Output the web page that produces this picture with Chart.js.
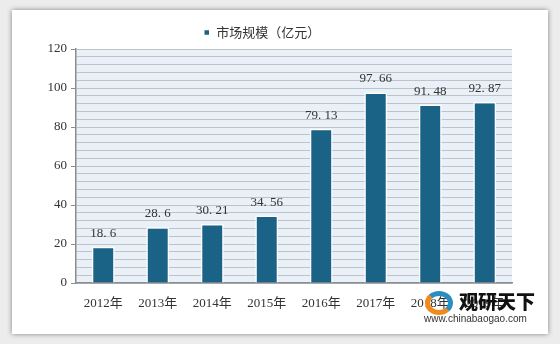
<!DOCTYPE html>
<html lang="zh-CN">
<head>
    <meta charset="UTF-8">
    <title>市场规模</title>
    <script src="https://cdn.jsdelivr.net/npm/chart.js"></script>
    <style>
        body {
            margin: 0;
            width: 560px;
            height: 344px;
            background-color: #ececec;
            overflow: hidden;
            position: relative;
        }

        .panel {
            position: absolute;
            left: 12px;
            top: 10px;
            width: 536px;
            height: 324px;
            background-color: #ffffff;
            box-shadow: 0 0 5px rgba(0, 0, 0, 0.45);
        }

        .logo {
            position: absolute;
            left: 410px;
            top: 278px;
            width: 124px;
            height: 44px;
            font-family: "Noto Sans CJK SC", sans-serif;
        }

        .logo .mark {
            position: absolute;
            left: 3px;
            top: 3px;
            width: 18px;
            height: 14px;
            border-radius: 50%;
            border: 5px solid #2a8fc0;
            border-bottom-color: #f08a1c;
            border-left-color: #f08a1c;
        }

        .logo .name {
            position: absolute;
            left: 37px;
            top: -1px;
            font-size: 19px;
            font-weight: 900;
            color: #111;
            letter-spacing: 0px;
        }

        .logo .url {
            position: absolute;
            left: 2px;
            top: 25px;
            font-family: "Liberation Sans", Arial, sans-serif;
            font-size: 10px;
            color: #333;
        }
    </style>
</head>
<body>
    <div class="panel">
        <canvas id="chart" width="536" height="324"></canvas>
        <div class="logo">
            <div class="mark"></div>
            <div class="name">观研天下</div>
            <div class="url">www.chinabaogao.com</div>
        </div>
    </div>

    <script>
        const years = ['2012年', '2013年', '2014年', '2015年', '2016年', '2017年', '2018年', '2019年'];
        const marketSize = [18.6, 28.6, 30.21, 34.56, 79.13, 97.66, 91.48, 92.87];
        const yTicks = [0, 20, 40, 60, 80, 100, 120];

        const textFont = '"Liberation Serif", "Noto Sans CJK SC", serif';

        // light blue plot background
        const plotBg = {
            id: 'plotBg',
            beforeDraw(chart) {
                const { ctx, chartArea: a } = chart;
                ctx.save();
                ctx.fillStyle = '#e9f0f7';
                ctx.fillRect(a.left, a.top, a.right - a.left, a.bottom - a.top);
                ctx.restore();
            }
        };

        // values above the bars
        const barLabels = {
            id: 'barLabels',
            afterDatasetsDraw(chart) {
                const { ctx } = chart;
                const meta = chart.getDatasetMeta(0);
                ctx.save();
                ctx.font = '13px ' + textFont;
                ctx.fillStyle = '#333333';
                ctx.textAlign = 'center';
                ctx.textBaseline = 'bottom';
                meta.data.forEach((bar, i) => {
                    ctx.fillText(String(marketSize[i]).replace('.', '. '), bar.x, bar.y - 7);
                });
                ctx.restore();
            }
        };

        new Chart(document.getElementById('chart'), {
            type: 'bar',
            data: {
                labels: years,
                datasets: [{
                    label: '市场规模（亿元）',
                    data: marketSize,
                    backgroundColor: '#1a6386',
                    borderColor: '#ffffff',
                    borderWidth: 1.5,
                    barPercentage: 0.42,
                    categoryPercentage: 1
                }]
            },
            options: {
                responsive: false,
                animation: false,
                layout: { padding: { top: 6, right: 36, left: 0, bottom: 0 } },
                plugins: {
                    tooltip: { enabled: false },
                    legend: {
                        labels: {
                            boxWidth: 6,
                            boxHeight: 6,
                            padding: 10,
                            color: '#333333',
                            font: { size: 13, family: '"Noto Sans CJK SC", sans-serif' }
                        }
                    }
                },
                scales: {
                    x: {
                        grid: { display: false },
                        border: { color: '#8c8c8c', width: 1.5 },
                        ticks: {
                            color: '#333333',
                            padding: 5,
                            font: { size: 13, family: textFont }
                        },
                        afterFit(scale) { scale.height = 51; }
                    },
                    y: {
                        min: 0,
                        max: 120,
                        border: { color: '#8c8c8c', width: 1.5 },
                        grid: {
                            color: '#bfc3c8',
                            lineWidth: 1,
                            tickLength: 5,
                            tickColor: ctx => (yTicks.includes(ctx.tick.value) ? '#8c8c8c' : 'rgba(0,0,0,0)')
                        },
                        ticks: {
                            stepSize: 4,
                            autoSkip: false,
                            color: '#333333',
                            padding: 4,
                            font: { size: 13, family: textFont },
                            callback: v => (yTicks.includes(v) ? v : '')
                        },
                        afterFit(scale) { scale.width = 64; }
                    }
                }
            },
            plugins: [plotBg, barLabels]
        });
    </script>
</body>
</html>
